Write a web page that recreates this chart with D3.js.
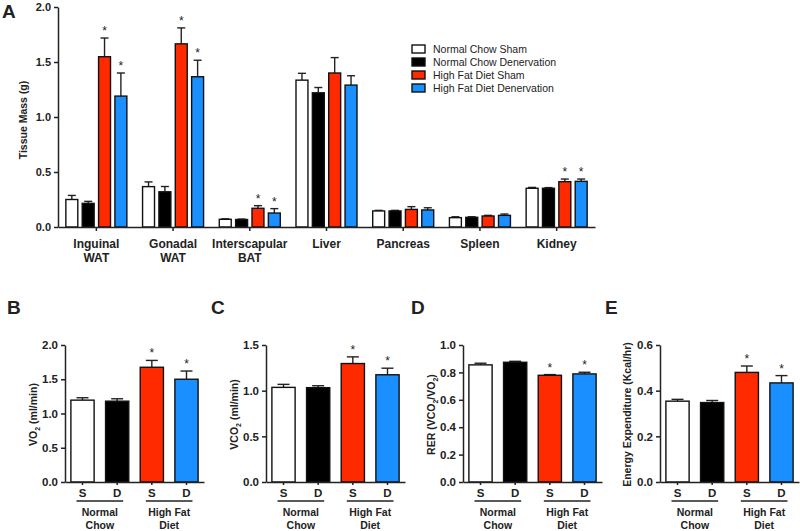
<!DOCTYPE html>
<html><head>
<meta charset="utf-8">
<title>Tissue mass and whole-body metabolism</title>
<script src="https://d3js.org/d3.v7.min.js"></script>
<style>
  body { margin: 0; background: #fff; }
  svg text { font-family: Arial, "Liberation Sans", sans-serif; fill: #222; }
  .axis path, .axis line { stroke: #222; stroke-width: 1.5px; }
  .axis text { font-weight: bold; font-size: 11px; }
  .small .axis text { font-size: 11.5px; }
  .bar { stroke: #111; stroke-width: 1.4px; }
  .err { stroke: #222; stroke-width: 1.4px; fill: none; }
  .star { font-size: 12px; text-anchor: middle; fill: #222; }
  .panel { font-size: 19px; font-weight: bold; }
  .ytitle { font-size: 10.5px; font-weight: bold; text-anchor: middle; }
  .cat { font-size: 12px; font-weight: bold; text-anchor: middle; }
  .legend text { font-size: 10.5px; }
  .grp { font-size: 10.5px; font-weight: bold; text-anchor: middle; }
</style>
</head>
<body>
<svg id="fig" width="800" height="531"></svg>

<script>
// ---- data ----
const groups = ["Normal Chow Sham", "Normal Chow Denervation", "High Fat Diet Sham", "High Fat Diet Denervation"];
const colors = ["#ffffff", "#000000", "#ff2a00", "#1a8fff"];

// panel A: tissue mass (g), mean and upper SEM
const tissues = ["Inguinal WAT", "Gonadal WAT", "Interscapular BAT", "Liver", "Pancreas", "Spleen", "Kidney"];
const ncSham    = [0.25, 0.367, 0.070, 1.335, 0.146, 0.085, 0.352];
const ncDen     = [0.215, 0.32, 0.068, 1.220, 0.146, 0.088, 0.352];
const hfdSham   = [1.548, 1.665, 0.170, 1.400, 0.160, 0.100, 0.412];
const hfdDen    = [1.190, 1.366, 0.127, 1.290, 0.155, 0.106, 0.415];
const ncShamErr  = [0.037, 0.043, 0.004, 0.062, 0.005, 0.008, 0.008];
const ncDenErr   = [0.018, 0.048, 0.004, 0.048, 0.005, 0.005, 0.006];
const hfdShamErr = [0.170, 0.145, 0.024, 0.140, 0.025, 0.006, 0.024];
const hfdDenErr  = [0.210, 0.150, 0.040, 0.085, 0.020, 0.012, 0.021];
const tissueSig  = [true, true, true, false, false, false, true];  // * on both HFD bars
const massTicks  = [0, 0.5, 1.0, 1.5, 2.0];

// panels B-E: S / D per diet
const shortLabels = ["S", "D", "S", "D"];
const dietLabels = [["Normal", "Chow"], ["High Fat", "Diet"]];
const vo2     = [1.195, 1.180, 1.675, 1.500];
const vo2Err  = [0.035, 0.035, 0.100, 0.120];
const vco2    = [1.036, 1.033, 1.297, 1.174];
const vco2Err = [0.033, 0.021, 0.073, 0.072];
const rer     = [0.855, 0.874, 0.779, 0.789];
const rerErr  = [0.012, 0.007, 0.005, 0.012];
const ee      = [0.354, 0.348, 0.480, 0.434];
const eeErr   = [0.008, 0.009, 0.028, 0.032];
const sig4    = [false, false, true, true];
const vo2Ticks  = [0, 0.5, 1.0, 1.5, 2.0];
const vco2Ticks = [0, 0.5, 1.0, 1.5];
const rerTicks  = [0, 0.2, 0.4, 0.6, 0.8, 1.0];
const eeTicks   = [0, 0.2, 0.4, 0.6];

const svg = d3.select("svg#fig");
const fmt = d3.format(".1f");

// ================= PANEL A =================
const aLeft = 58, aRight = 595, aTop = 7, aBottom = 227;

const xA = d3.scaleBand().domain(tissues).range([aLeft, aRight]);
const xInner = d3.scaleBand().domain(groups).range([0, xA.bandwidth()])
                 .paddingInner(0.27).paddingOuter(0.48);
const yA = d3.scaleLinear().domain([0, 2]).range([aBottom, aTop]);

const seriesA = [ncSham, ncDen, hfdSham, hfdDen];
const errsA = [ncShamErr, ncDenErr, hfdShamErr, hfdDenErr];

let tableA = [];
tissues.forEach((t, i) => {
  groups.forEach((g, j) => {
    tableA.push({tissue: t, group: g, gi: j, v: seriesA[j][i], e: errsA[j][i],
                 sig: tissueSig[i] && j >= 2});
  });
});

let chartA = svg.append("g").attr("id", "panelA");

tableA.forEach(d => {
  let x0 = xA(d.tissue) + xInner(d.group);
  let cx = x0 + xInner.bandwidth() / 2;
  let top = yA(d.v + d.e);

  chartA.append("line").attr("class", "err")
    .attr("x1", cx).attr("x2", cx).attr("y1", yA(d.v)).attr("y2", top);
  chartA.append("line").attr("class", "err")
    .attr("x1", cx - 4).attr("x2", cx + 4).attr("y1", top).attr("y2", top);

  chartA.append("rect").attr("class", "bar")
    .attr("x", x0).attr("width", xInner.bandwidth())
    .attr("y", yA(d.v)).attr("height", yA(0) - yA(d.v))
    .style("fill", colors[d.gi]);

  if (d.sig) {
    chartA.append("text").attr("class", "star")
      .attr("x", cx).attr("y", top - 3).text("*");
  }
});

chartA.append("g").attr("class", "axis")
  .attr("transform", "translate(" + aLeft + ",0)")
  .call(d3.axisLeft(yA).tickValues(massTicks).tickFormat(fmt).tickSize(4).tickSizeOuter(0));

chartA.append("g").attr("class", "axis")
  .attr("transform", "translate(0," + aBottom + ")")
  .call(d3.axisBottom(xA).tickSize(4).tickSizeOuter(0).tickFormat(""));

// two-line category labels
tissues.forEach(t => {
  let lbl = chartA.append("text").attr("class", "cat")
    .attr("x", xA(t) + xA.bandwidth() / 2).attr("y", 248);
  t.split(" ").forEach((w, k) => {
    lbl.append("tspan").attr("x", xA(t) + xA.bandwidth() / 2)
       .attr("dy", k == 0 ? 0 : 14).text(w);
  });
});

chartA.append("text").attr("class", "ytitle")
  .attr("transform", "translate(27," + ((aTop + aBottom) / 2 + 3) + ") rotate(-90)")
  .text("Tissue Mass (g)");

svg.append("text").attr("class", "panel").attr("x", 2).attr("y", 18).text("A");

// legend
const legY = d3.scalePoint().domain(groups).range([49, 88]);
let legend = svg.append("g").attr("class", "legend");
groups.forEach((g, j) => {
  legend.append("rect").attr("class", "bar")
    .attr("x", 412).attr("y", legY(g) - 4).attr("width", 13).attr("height", 8)
    .style("fill", colors[j]);
  legend.append("text").attr("x", 433).attr("y", legY(g)).attr("dy", "0.35em").text(g);
});

// ================= PANELS B-E =================
const bTop = 345, bBottom = 482;

const panels = [
  {letter: "B", axisX: 65,  titleX: 33,  letterX: 7,   vals: vo2,  errs: vo2Err,  ticks: vo2Ticks,
   title: [["VO", ""], ["2", "sub"], [" (ml/min)", ""]]},
  {letter: "C", axisX: 266, titleX: 234, letterX: 211, vals: vco2, errs: vco2Err, ticks: vco2Ticks,
   title: [["VCO", ""], ["2", "sub"], [" (ml/min)", ""]]},
  {letter: "D", axisX: 463, titleX: 431, letterX: 411, vals: rer,  errs: rerErr,  ticks: rerTicks,
   title: [["RER (VCO", ""], ["2", "sub"], ["/VO", ""], ["2", "sub"], [")", ""]]},
  {letter: "E", axisX: 660, titleX: 627, letterX: 605, vals: ee,   errs: eeErr,   ticks: eeTicks,
   title: [["Energy Expenditure (Kcal/hr)", ""]]}
];

panels.forEach(p => {
  let g = svg.append("g").attr("id", "panel" + p.letter).attr("class", "small");

  const x = d3.scaleBand().domain(groups).range([p.axisX, p.axisX + 139])
              .paddingInner(0.33).paddingOuter(0.17);
  const y = d3.scaleLinear().domain([0, d3.max(p.ticks)]).range([bBottom, bTop]);

  groups.forEach((grp, j) => {
    let cx = x(grp) + x.bandwidth() / 2;
    let top = y(p.vals[j] + p.errs[j]);

    g.append("line").attr("class", "err")
      .attr("x1", cx).attr("x2", cx).attr("y1", y(p.vals[j])).attr("y2", top);
    g.append("line").attr("class", "err")
      .attr("x1", cx - 6).attr("x2", cx + 6).attr("y1", top).attr("y2", top);

    g.append("rect").attr("class", "bar")
      .attr("x", x(grp)).attr("width", x.bandwidth())
      .attr("y", y(p.vals[j])).attr("height", y(0) - y(p.vals[j]))
      .style("fill", colors[j]);

    if (sig4[j]) {
      g.append("text").attr("class", "star").attr("x", cx).attr("y", top - 3).text("*");
    }
  });

  g.append("g").attr("class", "axis")
    .attr("transform", "translate(" + p.axisX + ",0)")
    .call(d3.axisLeft(y).tickValues(p.ticks).tickFormat(fmt).tickSize(4).tickSizeOuter(0));

  g.append("g").attr("class", "axis")
    .attr("transform", "translate(0," + bBottom + ")")
    .call(d3.axisBottom(x).tickSize(3).tickSizeOuter(0).tickPadding(4)
            .tickFormat((d, i) => shortLabels[i]));

  // diet brackets underneath
  [[0, 1], [2, 3]].forEach((pair, k) => {
    let x1 = x(groups[pair[0]]) + x.bandwidth() / 2 - 6;
    let x2 = x(groups[pair[1]]) + x.bandwidth() / 2 + 6;
    g.append("line").attr("class", "err")
      .attr("x1", x1).attr("x2", x2).attr("y1", 501).attr("y2", 501);
    dietLabels[k].forEach((w, n) => {
      g.append("text").attr("class", "grp")
        .attr("x", (x1 + x2) / 2).attr("y", 515.5 + n * 13.5).text(w);
    });
  });

  // y title, with subscripts
  let t = g.append("text").attr("class", "ytitle")
    .attr("transform", "translate(" + p.titleX + "," + ((bTop + bBottom) / 2 + 1) + ") rotate(-90)")
    .attr("dy", "0.35em");
  p.title.forEach(part => {
    let span = t.append("tspan").text(part[0]);
    if (part[1] == "sub") span.attr("font-size", "7px").attr("dy", 3);
    else if (t.selectAll("tspan").size() > 1) span.attr("dy", -3);
  });

  svg.append("text").attr("class", "panel").attr("x", p.letterX).attr("y", 314).text(p.letter);
});
</script>
</body>
</html>
